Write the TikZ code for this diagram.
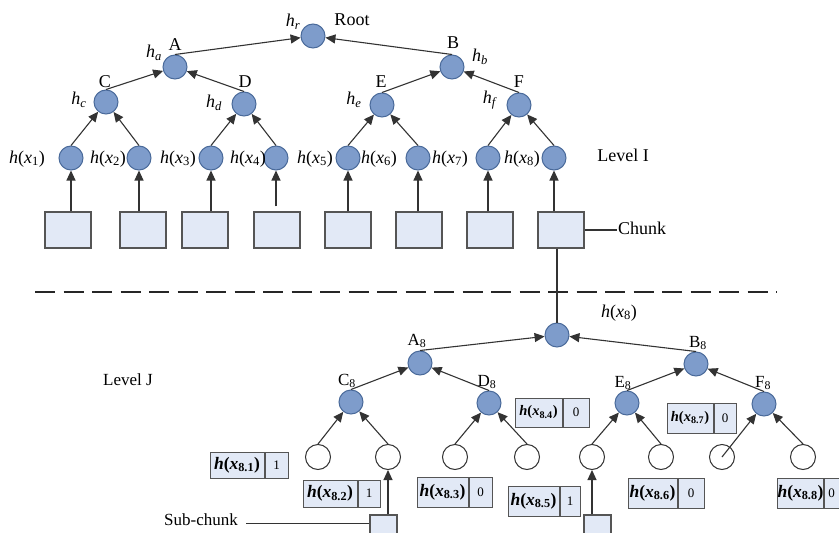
\documentclass[tikz,border=0pt]{standalone}
\usepackage{fontspec}
\setmainfont{Liberation Serif}
\usetikzlibrary{arrows.meta}
\definecolor{nodeblue}{HTML}{7E9CCB}
\definecolor{nodeedge}{HTML}{4A6A9A}
\definecolor{boxfill}{HTML}{E2E9F6}
\definecolor{boxedge}{HTML}{555555}
\definecolor{linec}{HTML}{333333}
\newcommand{\hxa}[1]{\textit{h}(\textit{x}\textsubscript{#1})}
\newcommand{\hsb}[1]{\textit{h}\textsubscript{\textit{#1}}}
\begin{document}
\begin{tikzpicture}[x=1pt,y=-1pt,
  font=\fontsize{18}{20}\selectfont,
  bnode/.style={circle, fill=nodeblue, draw=nodeedge, line width=1pt, minimum size=24pt, inner sep=0pt},
  wnode/.style={circle, fill=white, draw=linec, line width=1pt, minimum size=25pt, inner sep=0pt},
  chunkbox/.style={draw=boxedge, fill=boxfill, line width=1.1pt, minimum width=46pt, minimum height=36pt, inner sep=0pt},
  subbox/.style={draw=boxedge, fill=boxfill, line width=1.1pt, minimum width=27pt, minimum height=25pt, inner sep=0pt},
  arr/.style={draw=linec, line width=1.1pt, -{Triangle[length=10pt,width=9pt]}},
  conn/.style={draw=linec, line width=1.1pt},
  hl/.style={draw=boxedge, fill=boxfill, line width=1pt, inner sep=0pt, font=\fontsize{17.5}{19}\selectfont\bfseries},
  hls/.style={hl, font=\fontsize{14.5}{16}\selectfont\bfseries},
  hr/.style={draw=boxedge, fill=boxfill, line width=1pt, inner sep=0pt, anchor=west, font=\fontsize{13}{15}\selectfont},
  lbl/.style={inner sep=1pt},
  lbls/.style={inner sep=1pt, font=\fontsize{17}{19}\selectfont}
]
\useasboundingbox (0,0) rectangle (839,533);

% ---------------- Level I tree ----------------
\node[bnode] (root) at (313,36) {};
\node[bnode] (A) at (175,67) {};
\node[bnode] (B) at (452,67) {};
\node[bnode] (C) at (106,102) {};
\node[bnode] (D) at (244,104) {};
\node[bnode] (E) at (382,105) {};
\node[bnode] (F) at (519,105) {};
\foreach \i/\x in {1/71,2/139,3/211,4/276,5/348,6/418,7/488,8/554}
  \node[bnode] (l\i) at (\x,158) {};
\foreach \i/\x in {1/68,2/143,3/205,4/277,5/348,6/419,7/490,8/561}
  \node[chunkbox] (ch\i) at (\x,230) {};

% labels
\node[lbl] (lr) at (293,22) {\hsb{r}};
\node[lbl] (lroot) at (352,20) {Root};
\node[lbl] (lA) at (175,45) {A};
\node[lbl] (lha) at (154,53) {\hsb{a}};
\node[lbl] (lB) at (453,43) {B};
\node[lbl] (lhb) at (480,57) {\hsb{b}};
\node[lbl] (lC) at (105,82) {C};
\node[lbl] (lhc) at (79,100) {\hsb{c}};
\node[lbl] (lD) at (245,82) {D};
\node[lbl] (lhd) at (214,103) {\hsb{d}};
\node[lbl] (lE) at (381,82) {E};
\node[lbl] (lhe) at (354,100) {\hsb{e}};
\node[lbl] (lF) at (519,82) {F};
\node[lbl] (lhf) at (490,100) {\hsb{f}};
\foreach \i/\x in {1/27,2/108,3/178,4/248,5/315,6/379,7/450,8/522}
  \node[lbl] (tx\i) at (\x,159) {\hxa{\i}};
\node[lbl] (levI) at (623,155) {Level I};
\node[lbl, anchor=west] (chunklbl) at (617,228) {Chunk};

% connectors
\draw[arr] (A.north) -- (root);
\draw[arr] (B.north) -- (root);
\draw[arr] (C.north) -- (A);
\draw[arr] (D.north) -- (A);
\draw[arr] (E.north) -- (B);
\draw[arr] (F.north) -- (B);
\draw[arr] (l1.north) -- (C);
\draw[arr] (l2.north) -- (C);
\draw[arr] (l3.north) -- (D);
\draw[arr] (l4.north) -- (D);
\draw[arr] (l5.north) -- (E);
\draw[arr] (l6.north) -- (E);
\draw[arr] (l7.north) -- (F);
\draw[arr] (l8.north) -- (F);
\foreach \i in {1,2,3,5,6,7,8}
  \draw[arr] (ch\i.north -| l\i) -- (l\i);
\draw[arr, shorten <=5pt] (ch4.north -| l4) -- (l4);
\draw[conn] (ch8.east) -- (ch8.east -| chunklbl.west);

% dashed separator
\draw[draw=black!85, line width=2.6pt, dash pattern=on 20pt off 8.5pt] (35,292) -- (777,292);

% ---------------- Level J tree ----------------
\node[bnode] (R8) at (557,335) {};
\node[bnode] (A8) at (420,363) {};
\node[bnode] (B8) at (696,364) {};
\node[bnode] (C8) at (351,402) {};
\node[bnode] (D8) at (489,403) {};
\node[bnode] (E8) at (627,403) {};
\node[bnode] (F8) at (764,404) {};
\foreach \i/\x in {1/318,2/388,3/455,4/527,5/592,6/661,7/722,8/803}
  \node[wnode] (w\i) at (\x,457) {};

\node[lbl] (lhx8) at (619,313) {\hxa{8}};
\node[lbls] (lA8) at (417,341) {A\textsubscript{8}};
\node[lbls] (lB8) at (698,343) {B\textsubscript{8}};
\node[lbls] (lC8) at (347,381) {C\textsubscript{8}};
\node[lbls] (lD8) at (487,382) {D\textsubscript{8}};
\node[lbls] (lE8) at (623,383) {E\textsubscript{8}};
\node[lbls] (lF8) at (763,383) {F\textsubscript{8}};
\node[lbls] (levJ) at (128,380) {Level J};

\draw[conn] (ch8.south -| R8) -- (R8.north);
\draw[arr] (A8.north) -- (R8);
\draw[arr] (B8.north) -- (R8);
\draw[arr] (C8.north) -- (A8);
\draw[arr] (D8.north) -- (A8);
\draw[arr] (E8.north) -- (B8);
\draw[arr] (F8.north) -- (B8);
\draw[arr] (w1.north) -- (C8);
\draw[arr] (w2.north) -- (C8);
\draw[arr] (w3.north) -- (D8);
\draw[arr] (w4.north) -- (D8);
\draw[arr] (w5.north) -- (E8);
\draw[arr] (w6.north) -- (E8);
\draw[arr] (w7.center) -- (F8);
\draw[arr] (w8.north) -- (F8);

% sub-chunks
\node[subbox] (sb1) at (383.5,527.5) {};
\node[subbox] (sb2) at (597.5,527.5) {};
\draw[arr] (sb1.north -| w2) -- (w2);
\draw[arr] (sb2.north -| w5) -- (w5);
\node[lbls] (sublbl) at (201,520) {Sub-chunk};
\coordinate (subst) at (246,523);
\draw[conn, line width=0.9pt] (subst) -- (subst -| sb1.west);

% hash boxes
\node[hl, minimum width=54pt, minimum height=26pt] (h1) at (237,465) {\hxa{8.1}};
\node[hr, minimum width=23pt, minimum height=26pt] (d1) at (h1.east) {1};
\node[hl, minimum width=54pt, minimum height=27pt] (h2) at (330,493.5) {\hxa{8.2}};
\node[hr, minimum width=22pt, minimum height=27pt] (d2) at (h2.east) {1};
\node[hl, minimum width=51pt, minimum height=30pt] (h3) at (442.5,492) {\hxa{8.3}};
\node[hr, minimum width=23pt, minimum height=30pt] (d3) at (h3.east) {0};
\node[hls, minimum width=47pt, minimum height=29pt] (h4) at (538.5,412.5) {\hxa{8.4}};
\node[hr, minimum width=26pt, minimum height=29pt] (d4) at (h4.east) {0};
\node[hl, minimum width=51pt, minimum height=30pt] (h5) at (533.5,501) {\hxa{8.5}};
\node[hr, minimum width=20pt, minimum height=30pt] (d5) at (h5.east) {1};
\node[hl, minimum width=49pt, minimum height=30pt] (h6) at (652.5,493) {\hxa{8.6}};
\node[hr, minimum width=26pt, minimum height=30pt] (d6) at (h6.east) {0};
\node[hls, minimum width=46pt, minimum height=30pt] (h7) at (690,418) {\hxa{8.7}};
\node[hr, minimum width=22pt, minimum height=30pt] (d7) at (h7.east) {0};
\node[hl, minimum width=43pt, minimum height=30pt] (h8) at (800.5,493) {\hxa{8.8}};
\node[hr, minimum height=30pt, text width=20pt, inner xsep=4pt, align=left] (d8) at (h8.east) {0};
\end{tikzpicture}
\end{document}
